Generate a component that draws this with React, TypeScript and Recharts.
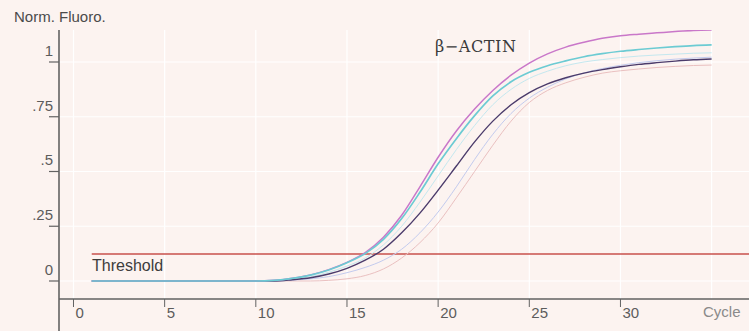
import React from "react";
import { LineChart, Line, XAxis, YAxis, CartesianGrid, ReferenceLine } from "recharts";

const cycles = [1,2,3,4,5,6,7,8,9,10,11,12,13,14,15,16,17,18,19,20,21,22,23,24,25,26,27,28,29,30,31,32,33,34,35];

const magenta = [0,0,0,0,0,0,0,0,0,0,0.003,0.013,0.028,0.052,0.085,0.13,0.2,0.3,0.43,0.565,0.685,0.785,0.87,0.94,0.995,1.037,1.068,1.09,1.108,1.12,1.127,1.133,1.139,1.144,1.146];
const cyan = [0,0,0,0,0,0,0,0,0,0,0.003,0.012,0.027,0.05,0.083,0.125,0.19,0.285,0.405,0.535,0.65,0.755,0.845,0.91,0.953,0.983,1.005,1.024,1.038,1.049,1.057,1.064,1.07,1.075,1.078];
const lightCyan = [0,0,0,0,0,0,0,0,0,0,0.002,0.008,0.02,0.04,0.068,0.105,0.165,0.25,0.36,0.48,0.6,0.71,0.805,0.875,0.925,0.958,0.983,1.0,1.011,1.02,1.027,1.032,1.036,1.04,1.042];
const darkPurple = [0,0,0,0,0,0,0,0,0,0,0,0.006,0.015,0.032,0.058,0.095,0.145,0.22,0.31,0.415,0.525,0.635,0.73,0.805,0.86,0.9,0.928,0.949,0.965,0.978,0.989,0.997,1.004,1.01,1.014];
const lightBlue = [0,0,0,0,0,0,0,0,0,0,0,0.004,0.01,0.02,0.038,0.062,0.095,0.145,0.22,0.315,0.43,0.555,0.67,0.765,0.835,0.885,0.923,0.95,0.97,0.985,0.997,1.006,1.013,1.018,1.022];
const pink = [0,0,0,0,0,0,0,0,0,0,0,0,0,0.003,0.01,0.025,0.055,0.105,0.175,0.265,0.38,0.5,0.62,0.73,0.815,0.87,0.905,0.93,0.949,0.96,0.968,0.975,0.98,0.984,0.986];

const THRESHOLD = 0.123;
const xTicks = [0, 5, 10, 15, 20, 25, 30];
const xGrid = [0, 5, 10, 15, 20, 25, 30, 35];
const yTicks = [0, 0.25, 0.5, 0.75, 1];
const yTickLabels = ["0", ".25", ".5", ".75", "1"];
const X_DOMAIN: [number, number] = [-0.795, 37.05];
const Y_DOMAIN: [number, number] = [-0.0822, 1.1461];

const rows = cycles.map((c, i) => ({
  cycle: c,
  magenta: magenta[i],
  cyan: cyan[i],
  lightCyan: lightCyan[i],
  darkPurple: darkPurple[i],
  lightBlue: lightBlue[i],
  pink: pink[i],
}));

const FONT = "'Liberation Sans', Arial, sans-serif";
const AXIS = "#626262";

const XTick = (props: any) => {
  const { x, y, payload } = props;
  return (
    <text x={x + 2} y={y + 11} textAnchor="start" fontFamily={FONT} fontSize={15} fill="#5c5c5c">
      {String(payload.value)}
    </text>
  );
};

const YTick = (props: any) => {
  const { x, y, payload } = props;
  const idx = yTicks.indexOf(payload.value);
  return (
    <text x={x + 4} y={y - 6} textAnchor="end" fontFamily={FONT} fontSize={15} fill="#5c5c5c">
      {idx >= 0 ? yTickLabels[idx] : ""}
    </text>
  );
};

export default function App() {
  return (
    <div style={{ position: "absolute", left: 0, top: 0, width: 749, height: 331, background: "#fcf3f0", overflow: "hidden" }}>
      <LineChart width={749} height={331} data={rows} margin={{ top: 30, right: 0, bottom: 0, left: 0 }}>
        <CartesianGrid stroke="#ffffff" strokeWidth={1.2} verticalValues={xGrid} horizontalValues={yTicks} />
        <XAxis
          type="number"
          dataKey="cycle"
          domain={X_DOMAIN}
          ticks={xTicks}
          allowDataOverflow
          height={32}
          tickSize={8}
          tickMargin={0}
          axisLine={{ stroke: AXIS, strokeWidth: 1.6 }}
          tickLine={{ stroke: AXIS, strokeWidth: 1 }}
          tick={<XTick />}
          interval={0}
        />
        <YAxis
          type="number"
          domain={Y_DOMAIN}
          ticks={yTicks}
          allowDataOverflow
          width={59}
          tickSize={10}
          tickMargin={0}
          axisLine={{ stroke: AXIS, strokeWidth: 1.6 }}
          tickLine={{ stroke: AXIS, strokeWidth: 1.2 }}
          tick={<YTick />}
          interval={0}
        />
        <ReferenceLine
          segment={[{ x: X_DOMAIN[0], y: Y_DOMAIN[0] }, { x: X_DOMAIN[0], y: -0.24 }]}
          stroke={AXIS}
          strokeWidth={1.6}
          ifOverflow="visible"
        />
        <ReferenceLine
          segment={[{ x: 1, y: THRESHOLD }, { x: X_DOMAIN[1], y: THRESHOLD }]}
          stroke="#c9514d"
          strokeWidth={1.5}
          ifOverflow="visible"
        />
        <Line type="monotone" dataKey="pink" stroke="#eac0c0" strokeWidth={1} dot={false} isAnimationActive={false} />
        <Line type="monotone" dataKey="lightBlue" stroke="#c3cbee" strokeWidth={1} dot={false} isAnimationActive={false} />
        <Line type="monotone" dataKey="lightCyan" stroke="#c4e8ef" strokeWidth={1} dot={false} isAnimationActive={false} />
        <Line type="monotone" dataKey="darkPurple" stroke="#4b3b6b" strokeWidth={1.4} dot={false} isAnimationActive={false} />
        <Line type="monotone" dataKey="magenta" stroke="#c977c9" strokeWidth={1.5} dot={false} isAnimationActive={false} />
        <Line type="monotone" dataKey="cyan" stroke="#6ccbd3" strokeWidth={1.7} dot={false} isAnimationActive={false} />
        <text x={14} y={22} fontFamily={FONT} fontSize={15} fill="#4a4a4a">Norm. Fluoro.</text>
        <text x={435} y={52} fontFamily="'DejaVu Serif', 'Liberation Serif', serif" fontSize={16} letterSpacing={0.6} fill="#3a3a3a">β−ACTIN</text>
        <text x={92} y={271} fontFamily={FONT} fontSize={16} fill="#3c3c3c">Threshold</text>
        <text x={703} y={317} fontFamily={FONT} fontSize={15} fill="#8a8a8a">Cycle</text>
      </LineChart>
    </div>
  );
}
